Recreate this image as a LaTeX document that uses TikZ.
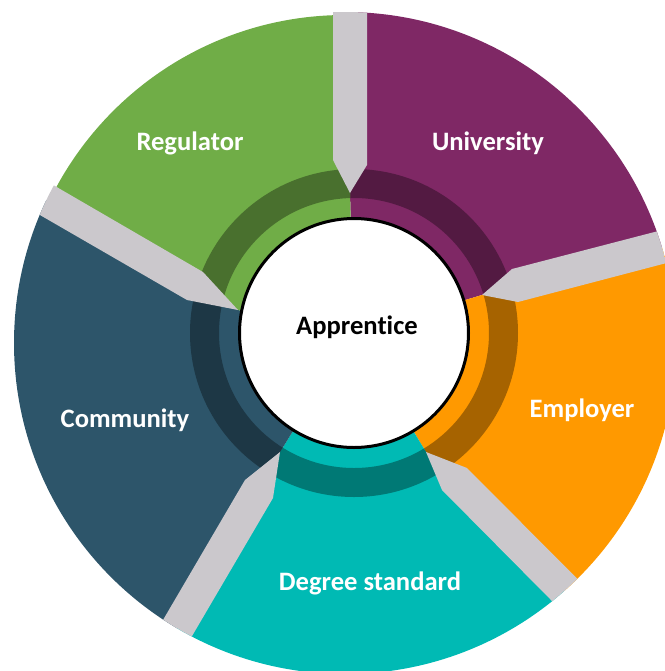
\documentclass[tikz,border=0pt]{standalone}
\usepackage{fontspec}
\setmainfont{Carlito}[Ligatures={NoCommon,NoContextual}]
\definecolor{regcol}{HTML}{70AD47}
\definecolor{unicol}{HTML}{7F2865}
\definecolor{empcol}{HTML}{FF9900}
\definecolor{degcol}{HTML}{00BAB4}
\definecolor{comcol}{HTML}{2D556A}
\definecolor{sepcol}{HTML}{CBC8CC}
\begin{document}
\begin{tikzpicture}[x=0.5pt,y=-0.5pt]
    \tikzstyle{every node}+=[inner sep=0pt]
    \tikzstyle{seglabel}=[text=white,font=\fontsize{13.3}{15}\selectfont\bfseries]
    \tikzstyle{ring}=[even odd rule]
    \useasboundingbox (0,0) rectangle (665,671);
    \clip (0,0) rectangle (665,671);
    \coordinate (c) at (354,333);
    \coordinate (o) at (345,343);
    \coordinate (t1) at (350,193);
    \coordinate (t2) at (482,295);
    \coordinate (t3) at (426,452);
    \coordinate (t4) at (280,452);
    \coordinate (t5) at (238,310);
    \coordinate (f1) at (350,-10);
    \coordinate (f2) at (720,232);
    \coordinate (f3) at (675,701);
    \coordinate (f4) at (136,698);
    \coordinate (f5) at (-4,171);
    \begin{scope}
    \clip (c) -- (t1) -- (f1) -- (720,-10) -- (f2) -- (t2) -- cycle;
    \fill [unicol] (o) circle (331);
    \fill [unicol!65!black, ring] (c) circle (164) (c) circle (135);
    \end{scope}
    \begin{scope}
    \clip (c) -- (t2) -- (f2) -- (720,720) -- (f3) -- (t3) -- cycle;
    \fill [empcol] (o) circle (331);
    \fill [empcol!65!black, ring] (c) circle (164) (c) circle (135);
    \end{scope}
    \begin{scope}
    \clip (c) -- (t3) -- (f3) -- (f4) -- (t4) -- cycle;
    \fill [degcol] (o) circle (331);
    \fill [degcol!65!black, ring] (c) circle (164) (c) circle (135);
    \end{scope}
    \begin{scope}
    \clip (c) -- (t4) -- (f4) -- (-20,720) -- (f5) -- (t5) -- cycle;
    \fill [comcol] (o) circle (331);
    \fill [comcol!65!black, ring] (c) circle (164) (c) circle (135);
    \end{scope}
    \begin{scope}
    \clip (c) -- (t5) -- (f5) -- (-20,-10) -- (f1) -- (t1) -- cycle;
    \fill [regcol] (o) circle (328);
    \fill [regcol!65!black, ring] (c) circle (164) (c) circle (135);
    \end{scope}
    \begin{scope}
    \clip (o) circle (331);
    \fill [sepcol] (333,-10) -- (333,160) -- (t1) -- (367,165) -- (367,-10) -- cycle;
    \fill [sepcol] (720,215) -- (512,269) -- (t2) -- (518,302) -- (720,249) -- cycle;
    \fill [sepcol] (690,692) -- (467,468) -- (t3) -- (442,490) -- (660,710) -- cycle;
    \fill [sepcol] (122,690) -- (245,480) -- (t4) -- (273,498) -- (151,706) -- cycle;
    \fill [sepcol] (5,157) -- (203,272) -- (t5) -- (187,300) -- (-12,185) -- cycle;
    \end{scope}
    \draw [black, line width=1.5pt, fill=white] (c) circle (114.5);
    \node [font=\fontsize{13.3}{15}\selectfont\bfseries] (apprentice) at (357,327) {Apprentice};
    \node [seglabel] (regulator) at (190,143) {Regulator};
    \node [seglabel] (university) at (488,143) {University};
    \node [seglabel] (employer) at (582,410) {Employer};
    \node [seglabel] (community) at (125,420) {Community};
    \node [seglabel] (degree) at (370,583) {Degree standard};
\end{tikzpicture}
\end{document}
